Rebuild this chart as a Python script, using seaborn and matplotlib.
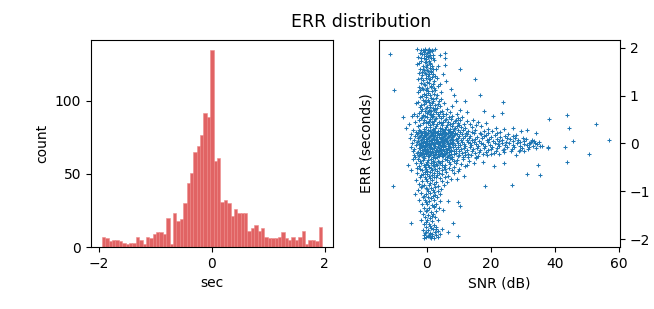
import numpy as np
import pandas as pd
import seaborn as sns
import matplotlib.pyplot as plt

# histogram of ERR (sec): 65 bins from -1.95 to 1.95
err_bin_lo, err_bin_hi = -1.95, 1.95
err_counts = [7, 6, 4, 5, 5, 4, 3, 2, 3, 3, 7, 5, 2, 7, 6, 9, 10, 10, 9, 20,
              2, 23, 18, 19, 30, 44, 51, 65, 69, 77, 92, 89, 135, 59, 61, 31,
              32, 30, 21, 26, 23, 23, 23, 11, 13, 15, 11, 13, 7, 6, 6, 6, 7,
              10, 6, 5, 7, 5, 7, 11, 2, 5, 5, 4, 14]

# scatter SNR (dB) vs ERR (seconds)
top_band = [(-1.2, 1.95), (-0.5, 1.96), (0.3, 1.95), (1.0, 1.94), (-0.8, 1.92), (0.6, 1.91),
            (1.5, 1.93), (-2.2, 1.90), (0.0, 1.89), (-1.5, 1.87), (0.9, 1.86), (-0.3, 1.84),
            (1.8, 1.85), (-2.6, 1.82), (0.4, 1.81), (-1.0, 1.79), (1.3, 1.78), (-0.1, 1.76),
            (2.3, 1.74), (-1.8, 1.73), (0.7, 1.72), (-0.6, 1.70), (1.1, 1.68), (-2.9, 1.66),
            (0.2, 1.65), (-1.3, 1.63), (1.6, 1.62), (-0.4, 1.60), (0.9, 1.58), (-2.0, 1.57),
            (2.8, 1.56), (0.1, 1.54), (-0.9, 1.53), (1.4, 1.52), (-1.6, 1.50), (0.5, 1.51),
            (3.5, 1.62), (5.8, 1.90), (5.8, 1.78), (5.8, 1.64), (4.2, 1.85), (2.6, 1.97),
            (-3.1, 1.97), (-0.7, 1.97), (0.8, 1.97), (-1.9, 1.96), (1.7, 1.96)]

upper_band = [(-2.4, 1.48), (-0.7, 1.47), (0.8, 1.46), (2.0, 1.45), (-1.4, 1.43), (0.3, 1.42),
              (1.6, 1.40), (-0.2, 1.38), (3.1, 1.37), (-2.8, 1.35), (1.0, 1.34), (-1.1, 1.32),
              (2.4, 1.30), (0.0, 1.29), (-1.9, 1.27), (0.7, 1.26), (1.9, 1.24), (-0.5, 1.22),
              (3.6, 1.21), (-2.3, 1.19), (1.3, 1.18), (0.2, 1.16), (-1.2, 1.14), (2.7, 1.13),
              (-0.3, 1.11), (1.6, 1.10), (4.4, 1.08), (-2.6, 1.07), (0.5, 1.06), (-0.8, 1.04),
              (2.1, 1.03), (1.0, 1.01), (-1.6, 1.00), (3.2, 1.02), (7.5, 1.15), (6.0, 1.30),
              (15.2, 1.36), (10.4, 1.57), (-10.3, 1.11), (-11.5, 1.87), (5.0, 1.45), (4.0, 1.25)]

mid_high_band = [(-2.0, 0.98), (-0.4, 0.97), (1.2, 0.96), (2.8, 0.95), (4.5, 0.93), (-1.3, 0.92),
                 (0.4, 0.91), (2.0, 0.90), (3.7, 0.88), (-2.7, 0.87), (-0.1, 0.86), (1.6, 0.85),
                 (5.5, 0.84), (-1.0, 0.82), (0.9, 0.81), (2.5, 0.80), (4.0, 0.79), (-2.2, 0.77),
                 (0.1, 0.76), (1.8, 0.75), (3.2, 0.74), (6.3, 0.73), (-1.5, 0.72), (0.6, 0.71),
                 (2.3, 0.70), (4.8, 0.69), (-0.6, 0.68), (1.3, 0.67), (3.0, 0.66), (7.2, 0.65),
                 (-2.5, 0.64), (0.2, 0.63), (1.9, 0.62), (5.2, 0.61), (-1.2, 0.60), (0.9, 0.61),
                 (3.6, 0.62), (8.6, 1.01), (9.2, 0.89), (11.8, 0.89), (16.5, 1.01), (8.0, 0.78),
                 (10.5, 0.70), (9.5, 0.62), (12.5, 0.66), (18.0, 0.68), (20.6, 0.57), (23.5, 0.64),
                 (23.75, 0.87), (-4.0, 0.62), (-7.3, 0.56), (-3.5, 0.85)]

mid_band = [(-4.5, 0.58), (-3.0, 0.57), (-1.5, 0.56), (0.0, 0.55), (1.5, 0.55), (3.0, 0.54),
            (4.5, 0.53), (6.0, 0.52), (7.5, 0.51), (9.0, 0.50), (10.5, 0.49), (12.5, 0.48),
            (-2.3, 0.50), (-0.8, 0.49), (0.7, 0.48), (2.2, 0.47), (3.7, 0.46), (5.2, 0.45),
            (6.7, 0.44), (8.2, 0.43), (9.7, 0.42), (11.5, 0.41), (13.5, 0.40), (15.5, 0.39),
            (-3.8, 0.44), (-1.2, 0.43), (0.3, 0.42), (1.8, 0.41), (3.3, 0.40), (4.8, 0.39),
            (6.3, 0.38), (7.8, 0.37), (9.3, 0.36), (10.8, 0.35), (-2.6, 0.36), (-0.4, 0.35),
            (1.1, 0.34), (2.6, 0.33), (4.1, 0.32), (5.6, 0.31), (7.1, 0.31), (8.6, 0.30),
            (12.0, 0.32), (14.0, 0.34), (17.0, 0.36), (19.0, 0.30), (21.5, 0.33), (24.0, 0.31),
            (27.0, 0.32), (29.5, 0.27), (31.4, 0.29), (34.0, 0.22), (38.3, 0.52), (43.9, 0.59),
            (44.4, 0.33), (52.7, 0.40), (16.0, 0.45), (18.5, 0.42), (11.0, 0.55), (14.5, 0.50),
            (-5.5, 0.40), (-6.5, 0.33), (2.0, 0.58), (5.0, 0.58), (8.0, 0.57)]

core_band = [
    (-4.2, 0.28), (-2.5, 0.29), (-1.0, 0.27), (0.5, 0.28), (2.0, 0.29), (3.4, 0.27), (5.0, 0.28),
    (6.5, 0.29), (8.1, 0.27), (9.6, 0.28), (11.3, 0.29), (13.0, 0.27), (15.2, 0.28), (17.8, 0.26),
    (20.5, 0.27), (23.0, 0.25),
    (-3.3, 0.24), (-1.8, 0.25), (-0.3, 0.23), (1.2, 0.24), (2.7, 0.25), (4.2, 0.23), (5.8, 0.24),
    (7.3, 0.25), (8.9, 0.23), (10.5, 0.24), (12.2, 0.22), (14.1, 0.24), (16.5, 0.23), (19.2, 0.22),
    (22.0, 0.21), (25.5, 0.20), (28.0, 0.18),
    (-4.8, 0.20), (-2.9, 0.19), (-1.4, 0.21), (0.1, 0.20), (1.6, 0.19), (3.1, 0.21), (4.6, 0.20),
    (6.1, 0.19), (7.7, 0.21), (9.3, 0.20), (10.9, 0.19), (12.6, 0.20), (14.6, 0.21), (16.9, 0.19),
    (18.5, 0.18), (21.2, 0.17), (24.3, 0.16), (26.8, 0.15), (30.0, 0.12),
    (-3.7, 0.16), (-2.1, 0.15), (-0.6, 0.17), (0.9, 0.16), (2.4, 0.15), (3.8, 0.17), (5.3, 0.16),
    (6.9, 0.15), (8.5, 0.17), (10.1, 0.16), (11.8, 0.15), (13.5, 0.16), (15.8, 0.14), (18.0, 0.15),
    (20.0, 0.13), (22.8, 0.14), (25.0, 0.12), (27.5, 0.11), (31.0, 0.09), (33.0, 0.07),
    (-5.2, 0.12), (-2.7, 0.11), (-1.1, 0.13), (0.4, 0.12), (1.9, 0.11), (3.3, 0.13), (4.9, 0.12),
    (6.4, 0.11), (8.0, 0.13), (9.7, 0.12), (11.4, 0.11), (13.2, 0.12), (15.0, 0.10), (17.2, 0.11),
    (19.5, 0.09), (21.8, 0.10), (23.6, 0.08), (26.0, 0.09), (28.5, 0.07), (30.5, 0.05), (32.5, 0.04),
    (-4.0, 0.08), (-1.7, 0.07), (-0.2, 0.09), (1.3, 0.08), (2.8, 0.07), (4.3, 0.09), (5.8, 0.08),
    (7.4, 0.07), (9.0, 0.09), (10.6, 0.08), (12.4, 0.07), (14.2, 0.08), (16.2, 0.06), (18.7, 0.07),
    (20.8, 0.05), (22.5, 0.06), (24.8, 0.04), (27.0, 0.05), (29.2, 0.03), (31.8, 0.02), (33.8, 0.01),
    (35.0, 0.03),
    (-3.0, 0.04), (-1.3, 0.03), (0.2, 0.05), (1.7, 0.04), (3.1, 0.03), (4.6, 0.05), (6.2, 0.04),
    (7.8, 0.03), (9.4, 0.05), (11.0, 0.04), (12.8, 0.03), (14.8, 0.04), (17.0, 0.02), (19.0, 0.03),
    (21.2, 0.01), (23.4, 0.02), (25.8, 0.00), (28.2, 0.01), (30.3, -0.01), (32.3, 0.00), (34.5, -0.02),
    (-4.6, 0.00), (-2.2, -0.01), (-0.7, 0.01), (0.8, 0.00), (2.3, -0.01), (3.7, 0.01), (5.2, 0.00),
    (6.7, -0.01), (8.3, 0.01), (9.9, 0.00), (11.6, -0.01), (13.6, 0.00), (15.5, -0.02), (17.6, -0.01),
    (19.8, -0.03), (22.2, -0.02), (24.5, -0.04), (26.8, -0.03), (29.0, -0.05), (31.2, -0.04),
    (33.2, -0.06), (35.2, -0.05), (37.8, -0.07),
    (-3.5, -0.04), (-1.9, -0.05), (-0.4, -0.03), (1.1, -0.04), (2.6, -0.05), (4.0, -0.03), (5.5, -0.04),
    (7.0, -0.05), (8.7, -0.03), (10.3, -0.04), (12.0, -0.05), (13.9, -0.04), (16.0, -0.06), (18.3, -0.05),
    (20.3, -0.07), (22.6, -0.06), (24.9, -0.08), (27.3, -0.07), (29.8, -0.09), (32.0, -0.08), (34.0, -0.10),
    (-5.0, -0.08), (-2.4, -0.09), (-0.9, -0.07), (0.6, -0.08), (2.1, -0.09), (3.5, -0.07), (5.0, -0.08),
    (6.6, -0.09), (8.2, -0.07), (9.8, -0.08), (11.5, -0.09), (13.4, -0.08), (15.6, -0.10), (17.8, -0.09),
    (20.0, -0.11), (22.0, -0.10), (24.0, -0.12), (26.5, -0.11), (29.0, -0.13), (31.5, -0.12),
    (-3.9, -0.12), (-1.5, -0.13), (0.0, -0.11), (1.5, -0.12), (3.0, -0.13), (4.4, -0.11), (6.0, -0.12),
    (7.6, -0.13), (9.1, -0.11), (10.8, -0.12), (12.6, -0.13), (14.5, -0.12), (16.6, -0.14), (19.0, -0.13),
    (21.5, -0.15), (23.8, -0.14), (26.2, -0.16), (28.8, -0.15),
    (-4.4, -0.16), (-2.0, -0.17), (-0.5, -0.15), (1.0, -0.16), (2.5, -0.17), (3.9, -0.15), (5.4, -0.16),
    (7.0, -0.17), (8.6, -0.15), (10.2, -0.16), (12.0, -0.17), (14.0, -0.16), (16.2, -0.18), (18.5, -0.17),
    (21.0, -0.19), (24.0, -0.18),
    (-3.2, -0.20), (-1.6, -0.21), (-0.1, -0.19), (1.4, -0.20), (2.9, -0.21), (4.3, -0.19), (5.9, -0.20),
    (7.5, -0.21), (9.1, -0.19), (10.9, -0.20), (12.9, -0.21), (15.0, -0.20), (17.5, -0.22), (20.0, -0.21),
    (22.5, -0.23),
    (-4.1, -0.24), (-2.3, -0.25), (-0.8, -0.23), (0.7, -0.24), (2.2, -0.25), (3.6, -0.23), (5.1, -0.24),
    (6.8, -0.25), (8.4, -0.23), (10.0, -0.24), (11.8, -0.25), (13.8, -0.24), (16.0, -0.26), (18.8, -0.25),
    (-3.6, -0.28), (-1.2, -0.29), (0.3, -0.27), (1.8, -0.28), (3.2, -0.29), (4.7, -0.27), (6.3, -0.28),
    (7.9, -0.29), (9.6, -0.27), (11.2, -0.28), (13.0, -0.29), (15.5, -0.28),
]

core_fill = [
    (-2.0, 0.26), (-0.6, 0.25), (1.1, 0.26), (2.4, 0.27), (4.1, 0.26), (5.4, 0.25), (7.1, 0.26),
    (-2.6, 0.22), (-1.0, 0.21), (0.5, 0.22), (1.8, 0.23), (3.5, 0.22), (4.8, 0.21), (6.5, 0.22), (7.8, 0.23),
    (-1.7, 0.18), (-0.2, 0.18), (1.3, 0.17), (2.6, 0.18), (4.3, 0.19), (5.6, 0.18), (7.3, 0.17),
    (-2.3, 0.14), (-0.8, 0.13), (0.7, 0.14), (2.0, 0.15), (3.7, 0.14), (5.0, 0.13), (6.7, 0.14), (8.2, 0.15),
    (-1.5, 0.10), (0.0, 0.10), (1.5, 0.09), (2.8, 0.10), (4.5, 0.11), (5.8, 0.10), (7.5, 0.09),
    (-2.8, 0.06), (-0.9, 0.05), (0.6, 0.06), (2.1, 0.07), (3.4, 0.06), (5.1, 0.05), (6.4, 0.06), (8.1, 0.07),
    (-1.8, 0.02), (-0.3, 0.02), (1.2, 0.01), (2.5, 0.02), (4.2, 0.03), (5.5, 0.02), (7.2, 0.01),
    (-2.5, -0.02), (-1.1, -0.03), (0.4, -0.02), (1.9, -0.01), (3.6, -0.02), (4.9, -0.03), (6.6, -0.02), (7.9, -0.01),
    (-1.6, -0.06), (-0.1, -0.06), (1.4, -0.07), (2.7, -0.06), (4.4, -0.05), (5.7, -0.06), (7.4, -0.07),
    (-2.1, -0.10), (-0.6, -0.11), (0.9, -0.10), (2.2, -0.09), (3.9, -0.10), (5.2, -0.11), (6.9, -0.10),
    (-1.3, -0.14), (0.2, -0.14), (1.7, -0.15), (3.2, -0.14), (4.5, -0.13), (6.2, -0.14), (7.7, -0.15),
    (-2.7, -0.18), (-1.1, -0.19), (0.4, -0.18), (1.9, -0.17), (3.4, -0.18), (4.7, -0.19), (6.4, -0.18),
    (-1.9, -0.22), (-0.3, -0.22), (1.0, -0.21), (2.7, -0.22), (4.0, -0.23), (5.7, -0.22),
    (-2.4, -0.26), (-0.9, -0.27), (0.7, -0.26), (2.0, -0.25), (3.7, -0.26), (5.0, -0.27), (6.7, -0.26),
]

# extra points where the picture is solid: the column near 0 dB and the
# thick part of the blob between -0.6 and 0.6 s
column_fill = [
    (-0.9, 1.88), (0.5, 1.84), (-1.7, 1.80), (1.9, 1.80), (-0.2, 1.71), (-2.4, 1.69), (0.9, 1.66),
    (-1.1, 1.57), (2.0, 1.55), (-0.1, 1.45), (1.3, 1.49), (-1.8, 1.38), (0.6, 1.35), (2.6, 1.41),
    (-0.9, 1.25), (1.2, 1.21), (-1.5, 1.17), (0.4, 1.09), (2.3, 1.17), (-0.1, 1.02), (-2.1, 1.12),
    (1.9, 0.93), (-0.7, 0.89), (0.8, 0.86), (3.4, 0.82), (-1.8, 0.81), (1.1, 0.77), (2.7, 0.72),
    (-0.3, 0.74), (4.2, 0.66), (-1.9, 0.67), (0.5, 0.66), (6.0, 0.62), (1.4, 0.59), (-0.7, 0.58),
    (3.9, 0.57), (6.9, 0.55), (9.8, 0.53), (-1.9, 0.53), (0.9, 0.52), (2.6, 0.51), (5.6, 0.49),
    (8.8, 0.47), (-0.2, 0.46), (1.5, 0.45), (4.3, 0.43), (7.3, 0.41), (10.2, 0.39), (-2.0, 0.39),
    (0.9, 0.38), (3.0, 0.37), (5.9, 0.35), (8.9, 0.33), (-0.9, 0.31), (1.9, 0.31), (4.7, 0.30),
    (-1.0, -0.31), (1.2, -0.32), (2.7, -0.31), (5.6, -0.32), (7.1, -0.31), (-2.0, -0.37), (0.0, -0.38),
    (2.3, -0.39), (3.9, -0.38), (6.9, -0.38), (8.5, -0.37), (-1.0, -0.45), (0.5, -0.44), (2.0, -0.46),
    (3.3, -0.45), (4.8, -0.46), (-2.0, -0.53), (-0.4, -0.53), (1.3, -0.52), (2.7, -0.54), (5.7, -0.53),
    (-0.6, -0.60), (1.0, -0.59), (2.4, -0.61), (3.9, -0.62), (-1.9, -0.66), (0.7, -0.68), (2.9, -0.71),
    (-0.4, -0.75), (1.1, -0.82), (-1.6, -0.89), (0.1, -0.96), (2.3, -1.01), (-0.8, -1.09), (1.3, -1.15),
    (-0.2, -1.23), (2.4, -1.30), (0.1, -1.39), (1.7, -1.52), (-0.3, -1.64), (1.1, -1.72), (2.8, -1.78),
    (-0.1, -1.86), (1.6, -1.89), (0.6, -1.91), (3.4, -1.95), (-0.9, -1.97), (1.3, -1.97),
]

low_band = [(-4.3, -0.32), (-2.8, -0.33), (-1.1, -0.34), (0.4, -0.35), (1.9, -0.36), (3.4, -0.37),
            (4.9, -0.36), (6.4, -0.34), (8.0, -0.33), (9.5, -0.35), (11.3, -0.32), (13.2, -0.36),
            (15.5, -0.31), (-3.4, -0.40), (-1.7, -0.41), (-0.2, -0.42), (1.3, -0.40), (2.8, -0.43),
            (4.2, -0.41), (5.8, -0.44), (7.3, -0.42), (9.0, -0.40), (10.8, -0.43), (12.6, -0.45),
            (14.8, -0.41), (17.5, -0.38), (21.1, -0.47), (-2.4, -0.48), (-0.7, -0.49), (0.8, -0.50),
            (2.3, -0.48), (3.8, -0.51), (5.3, -0.49), (6.9, -0.52), (8.5, -0.50), (10.2, -0.53),
            (12.0, -0.48), (-4.8, -0.55), (-1.4, -0.56), (0.1, -0.57), (1.6, -0.55), (3.1, -0.58),
            (4.6, -0.56), (6.1, -0.59), (7.8, -0.55), (9.8, -0.58), (-6.0, -0.45), (-3.0, -0.52),
            (24.0, -0.40), (34.7, -0.44), (37.8, -0.10), (43.3, -0.07), (45.6, 0.05), (56.9, 0.08),
            (50.8, -0.23), (43.9, -0.38), (35.5, -0.66), (31.4, -0.63), (26.6, -0.86), (18.2, -0.90),
            (28.0, -0.25), (30.5, -0.15), (36.0, -0.05), (33.5, 0.05)]

lower_band = [(-2.9, -0.62), (-1.3, -0.64), (0.2, -0.63), (1.7, -0.65), (3.3, -0.66), (4.9, -0.64),
              (6.6, -0.67), (8.4, -0.62), (-2.1, -0.70), (-0.6, -0.71), (0.9, -0.72), (2.4, -0.70),
              (4.0, -0.73), (5.6, -0.71), (7.5, -0.74), (-3.3, -0.77), (-1.5, -0.78), (0.0, -0.79),
              (1.5, -0.77), (3.0, -0.80), (4.6, -0.78), (6.4, -0.81), (-2.4, -0.85), (-0.9, -0.86),
              (0.6, -0.87), (2.1, -0.85), (3.6, -0.88), (5.3, -0.86), (-1.8, -0.92), (-0.3, -0.93),
              (1.2, -0.94), (2.7, -0.92), (4.3, -0.95), (-2.6, -0.98), (0.4, -0.99), (1.9, -0.97),
              (3.4, -1.00), (9.5, -0.75), (11.5, -0.68), (-10.6, -0.90)]

deep_band = [(-1.9, -1.03), (-0.4, -1.05), (1.1, -1.04), (2.6, -1.07), (4.2, -1.06), (-3.75, -1.06),
             (-1.2, -1.11), (0.3, -1.12), (1.8, -1.10), (3.3, -1.13), (-2.3, -1.18), (-0.7, -1.19),
             (0.8, -1.20), (2.3, -1.18), (4.0, -1.21), (9.9, -1.23), (10.4, -1.30), (-1.6, -1.26),
             (0.0, -1.27), (1.5, -1.28), (3.0, -1.26), (-0.9, -1.34), (0.6, -1.35), (2.1, -1.33),
             (3.7, -1.36), (-2.0, -1.41), (-0.3, -1.42), (1.2, -1.43), (2.8, -1.41), (5.0, -1.40),
             (-1.1, -1.48), (0.5, -1.49), (2.0, -1.47), (6.5, -1.20)]

bottom_band = [(-0.5, -1.53), (1.0, -1.55), (2.5, -1.54), (-1.7, -1.60), (0.2, -1.61), (1.7, -1.62),
               (3.4, -1.60), (-4.9, -1.66), (8.1, -1.67), (-0.9, -1.68), (0.7, -1.69), (2.3, -1.70),
               (-0.1, -1.75), (1.4, -1.76), (3.0, -1.74), (4.7, -1.78), (-1.3, -1.81), (0.4, -1.82),
               (2.0, -1.80), (3.6, -1.83), (-0.6, -1.87), (1.0, -1.88), (2.6, -1.86), (4.2, -1.89),
               (-1.0, -1.92), (0.3, -1.93), (1.6, -1.94), (2.9, -1.92), (0.9, -1.96), (2.2, -1.97),
               (-0.2, -1.95), (9.9, -1.93), (6.5, -1.85)]

edges = np.linspace(err_bin_lo, err_bin_hi, len(err_counts) + 1)
centers = (edges[:-1] + edges[1:]) / 2
hist_df = pd.DataFrame({'sec': centers, 'n': err_counts})

points = (top_band + upper_band + mid_high_band + mid_band + core_band + core_fill
          + column_fill + low_band + lower_band + deep_band + bottom_band)
scat_df = pd.DataFrame(points, columns=['snr', 'err'])

fig = plt.figure(figsize=(6.54, 3.09), dpi=100)
ax1 = fig.add_axes([0.139, 0.2006, 0.370, 0.670])
ax2 = fig.add_axes([0.5795, 0.2006, 0.3685, 0.670])

sns.histplot(data=hist_df, x='sec', weights='n', bins=len(err_counts),
             binrange=(err_bin_lo, err_bin_hi), color='tab:red',
             alpha=0.72, edgecolor=(0.93, 0.55, 0.55), linewidth=0.4, ax=ax1)
ax1.set_xlabel('sec')
ax1.set_ylabel('count')
ax1.set_xticks([-2, 0, 2])
ax1.set_yticks([0, 50, 100])

sns.scatterplot(data=scat_df, x='snr', y='err', marker='+', s=6, linewidth=0.75,
                color='tab:blue', ax=ax2)
ax2.yaxis.tick_right()
ax2.set_xlabel('SNR (dB)')
ax2.set_ylabel('ERR (seconds)')
ax2.set_xticks([0, 20, 40, 60])
ax2.set_yticks([-2, -1, 0, 1, 2])

fig.suptitle('ERR distribution', x=0.552, y=0.958, fontsize=12.5)

fig.savefig('out.png', dpi=100)
